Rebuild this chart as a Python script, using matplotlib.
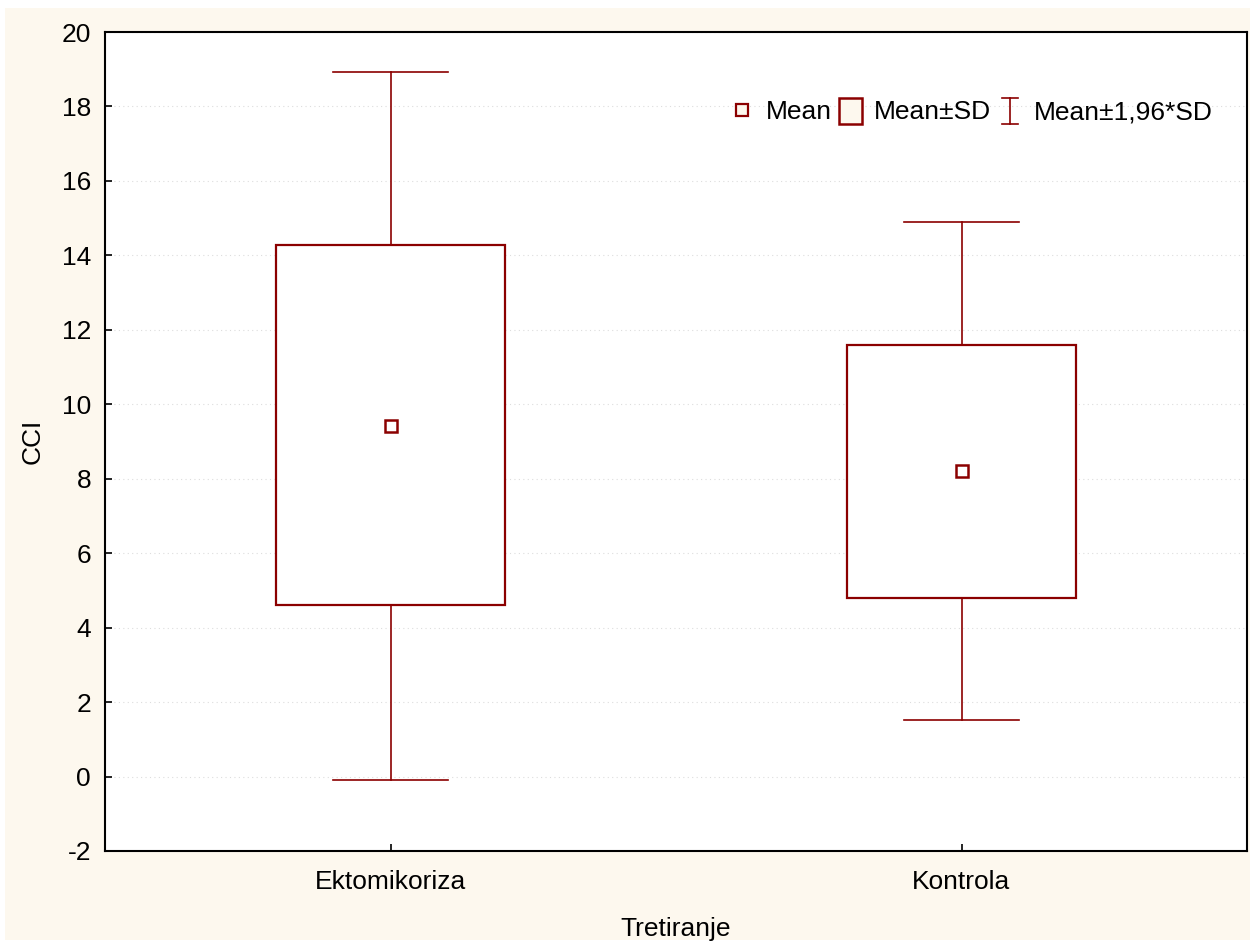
import matplotlib.pyplot as plt
from matplotlib.lines import Line2D
from matplotlib.patches import Rectangle
from matplotlib.legend_handler import HandlerBase

plt.rcParams['font.family'] = ['Liberation Sans', 'DejaVu Sans']
plt.rcParams['axes.unicode_minus'] = False

groups = ['Ektomikoriza', 'Kontrola']
means = [9.42, 8.21]
sd_low = [4.61, 4.80]
sd_high = [14.28, 11.59]
ci_low = [-0.09, 1.52]
ci_high = [18.93, 14.90]

red = '#8b0000'

fig = plt.figure(figsize=(12.55, 9.42), dpi=100)
fig.patches.append(Rectangle((5 / 1255, 2 / 942), 1245 / 1255, 932 / 942,
                             transform=fig.transFigure, facecolor='#fdf8ee',
                             edgecolor='none', zorder=-10))
ax = fig.add_axes([105 / 1255, 1 - 851 / 942, 1142 / 1255, 819 / 942])
ax.set_facecolor('white')

for i in range(len(groups)):
    # whiskers and caps
    ax.plot([i, i], [ci_low[i], sd_low[i]], color=red, lw=1.2, zorder=2)
    ax.plot([i, i], [sd_high[i], ci_high[i]], color=red, lw=1.2, zorder=2)
    ax.plot([i - 0.1, i + 0.1], [ci_low[i], ci_low[i]], color=red, lw=1.2, zorder=2)
    ax.plot([i - 0.1, i + 0.1], [ci_high[i], ci_high[i]], color=red, lw=1.2, zorder=2)
    ax.add_patch(Rectangle((i - 0.2, sd_low[i]), 0.4, sd_high[i] - sd_low[i],
                           facecolor='white', edgecolor=red, lw=1.6, zorder=3))
    ax.plot(i, means[i], marker='s', ms=9, mfc='white', mec=red, mew=1.8,
            ls='none', zorder=4)

ax.set_xlim(-0.5, 1.5)
ax.set_ylim(-2, 20)
ax.set_yticks(range(-2, 21, 2))
ax.set_xticks(range(len(groups)))
ax.set_xticklabels(groups)
ax.tick_params(direction='in', labelsize=19, length=5, width=1.2)
ax.tick_params(axis='x', pad=14)
ax.tick_params(axis='y', pad=10)
ax.grid(axis='y', color='#dddddd', ls=(0, (1, 3)), lw=0.8)
ax.set_axisbelow(True)
for s in ax.spines.values():
    s.set_linewidth(1.5)
ax.set_xlabel('Tretiranje', fontsize=19, labelpad=16)
ax.set_ylabel('CCI', fontsize=19, labelpad=12)


class BoxHandler(HandlerBase):
    def create_artists(self, legend, orig, x0, y0, w, h, fs, trans):
        r = Rectangle((x0 + w / 2 - 8, y0 - 3), 16, h + 5, facecolor='#fdf8ee',
                      edgecolor=red, lw=1.8, transform=trans)
        return [r]


class BarHandler(HandlerBase):
    def create_artists(self, legend, orig, x0, y0, w, h, fs, trans):
        cx = x0 + w / 2
        lo, hi = y0 - 3, y0 + h + 2
        a = Line2D([cx, cx], [lo, hi], color=red, lw=1.2, transform=trans)
        b = Line2D([cx - 6, cx + 6], [lo, lo], color=red, lw=1.2, transform=trans)
        c = Line2D([cx - 6, cx + 6], [hi, hi], color=red, lw=1.2, transform=trans)
        return [a, b, c]


h_mean = Line2D([], [], marker='s', ms=8, mfc='#fdf8ee', mec=red, mew=1.6, ls='none')
h_box = Rectangle((0, 0), 1, 1)
h_bar = Line2D([], [])
ax.legend([h_mean, h_box, h_bar], ['Mean', 'Mean±SD', 'Mean±1,96*SD'],
          handler_map={h_box: BoxHandler(), h_bar: BarHandler()},
          ncol=3, frameon=False, fontsize=19, loc='upper right',
          bbox_to_anchor=(0.986, 0.939), handlelength=1.0, handletextpad=0.4,
          columnspacing=0.2, borderpad=0.2)

fig.savefig('out.png', dpi=100)
